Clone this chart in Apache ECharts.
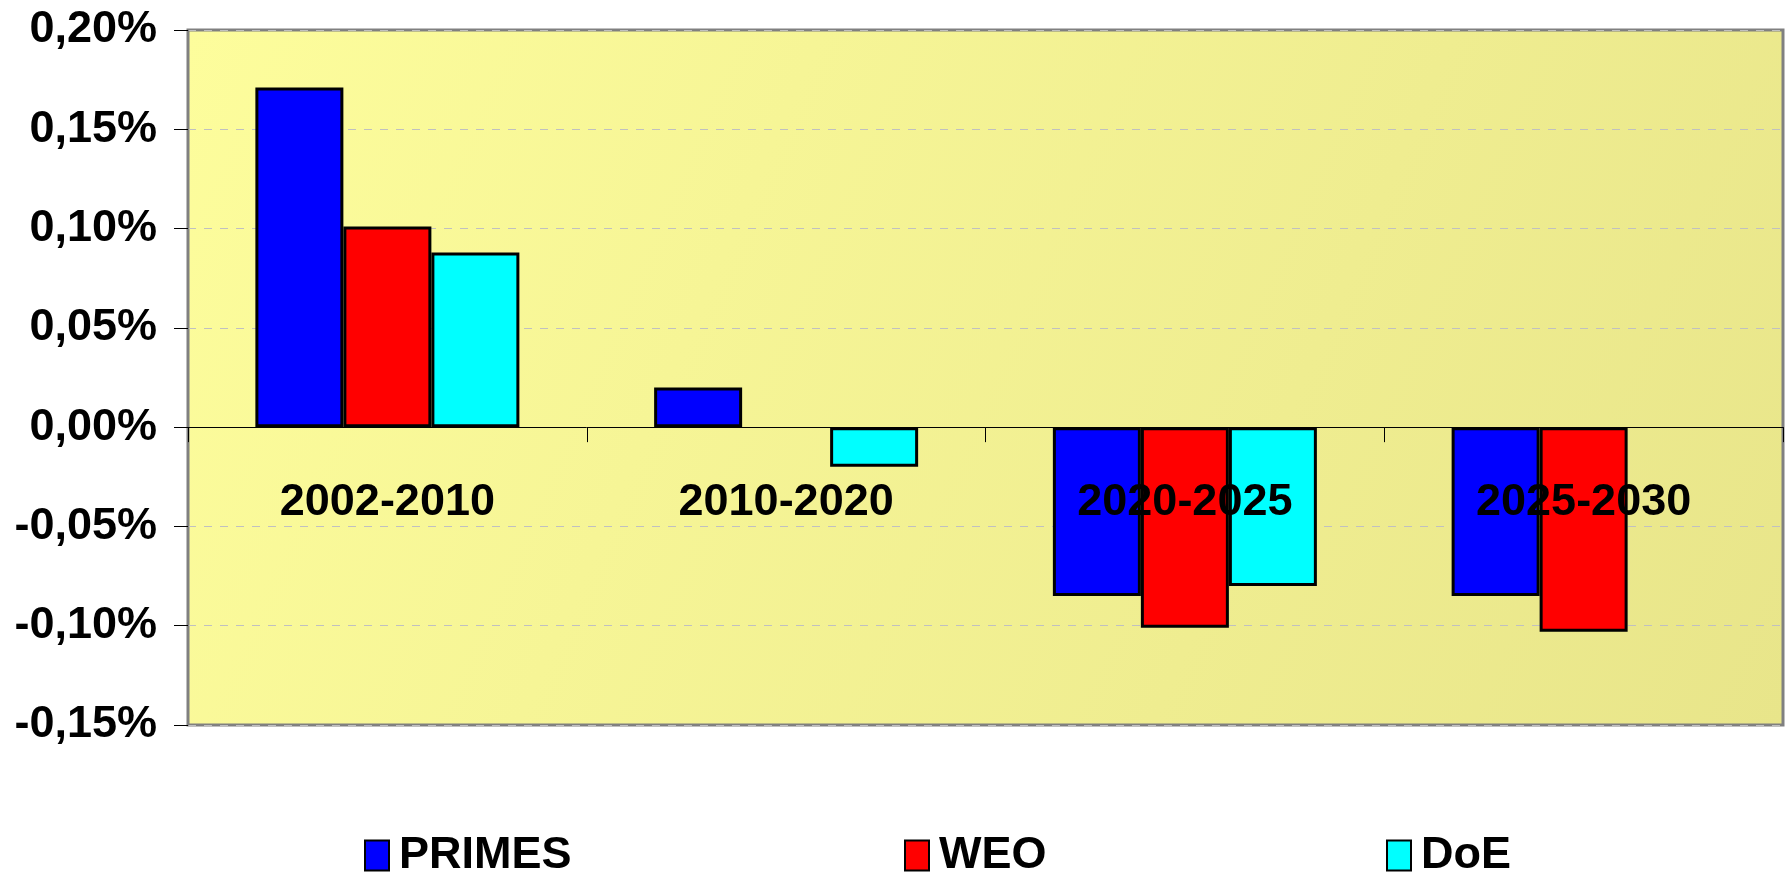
<!DOCTYPE html>
<html>
<head>
<meta charset="utf-8">
<script src="https://cdn.jsdelivr.net/npm/echarts@6/dist/echarts.min.js"></script>
<style>
  html, body { margin: 0; padding: 0; background: #fff; }
  #chart { width: 1786px; height: 876px; }
</style>
</head>
<body>
<div id="chart"></div>
<script>
// periods on the x axis
const periods = ['2002-2010', '2010-2020', '2020-2025', '2025-2030']
// annual change, in percent
const primes = [0.171, 0.020, -0.085, -0.085]
const weo = [0.101, null, -0.101, -0.103]
const doe = [0.088, -0.020, -0.080, null]
const seriesNames = ['PRIMES', 'WEO', 'DoE']

const FONT = "'Liberation Sans', Arial, sans-serif"

const fmtPct = v => {
  if (Math.abs(v) < 1e-9) v = 0
  return v.toFixed(2).replace('.', ',') + '%'
}

// grid geometry, used to put the category axis on the zero line
const gridTop = 30
const gridBottom = 151
const yMin = -0.15
const yMax = 0.2
const plotH = 876 - gridTop - gridBottom
const zeroOffset = -plotH * (0 - yMin) / (yMax - yMin)

const chart = echarts.init(document.getElementById('chart'))

const barStyle = color => ({
  color: color,
  borderColor: '#000',
  borderWidth: 3
})

const legendAt = (name, left) => ({
  left: left,
  top: 833,
  padding: 0,
  itemWidth: 24,
  itemHeight: 30,
  icon: 'rect',
  textStyle: {
    fontFamily: FONT,
    fontSize: 45,
    fontWeight: 'bold',
    color: '#000',
    padding: [0, 0, 0, 5]
  },
  data: [name]
})

const option = {
  animation: false,
  backgroundColor: '#fff',
  textStyle: { fontFamily: FONT },
  grid: {
    left: 188,
    right: 3,
    top: gridTop,
    bottom: gridBottom,
    show: true,
    borderColor: '#808080',
    borderWidth: 3,
    backgroundColor: new echarts.graphic.LinearGradient(0, 0, 1, 1, [
      { offset: 0, color: '#fdfd9c' },
      { offset: 1, color: '#e8e58a' }
    ])
  },
  legend: [
    legendAt(seriesNames[0], 364),
    legendAt(seriesNames[1], 904),
    legendAt(seriesNames[2], 1386)
  ],
  xAxis: {
    type: 'category',
    data: periods,
    z: 10,
    offset: zeroOffset,
    axisLine: { onZero: false, lineStyle: { color: '#000', width: 1 } },
    axisTick: { show: true, length: 15, lineStyle: { color: '#000' } },
    axisLabel: {
      margin: 53,
      fontFamily: FONT,
      fontSize: 45,
      fontWeight: 'bold',
      color: '#000'
    },
    splitLine: { show: false }
  },
  yAxis: {
    type: 'value',
    min: yMin,
    max: yMax,
    interval: 0.05,
    axisLine: { show: true, lineStyle: { color: '#808080', width: 2 } },
    axisTick: { show: true, length: 14, lineStyle: { color: '#000' } },
    axisLabel: {
      margin: 31,
      formatter: fmtPct,
      fontFamily: FONT,
      fontSize: 45,
      fontWeight: 'bold',
      color: '#000'
    },
    splitLine: { show: true, lineStyle: { color: '#c0c0c0', type: [8, 8], width: 1 } }
  },
  series: [
    { name: seriesNames[0], type: 'bar', data: primes, barWidth: 88, barGap: '0%', itemStyle: barStyle('#0000ff') },
    { name: seriesNames[1], type: 'bar', data: weo, barWidth: 88, barGap: '0%', itemStyle: barStyle('#ff0000') },
    { name: seriesNames[2], type: 'bar', data: doe, barWidth: 88, barGap: '0%', itemStyle: barStyle('#00ffff') }
  ]
}

chart.setOption(option)
</script>
</body>
</html>
